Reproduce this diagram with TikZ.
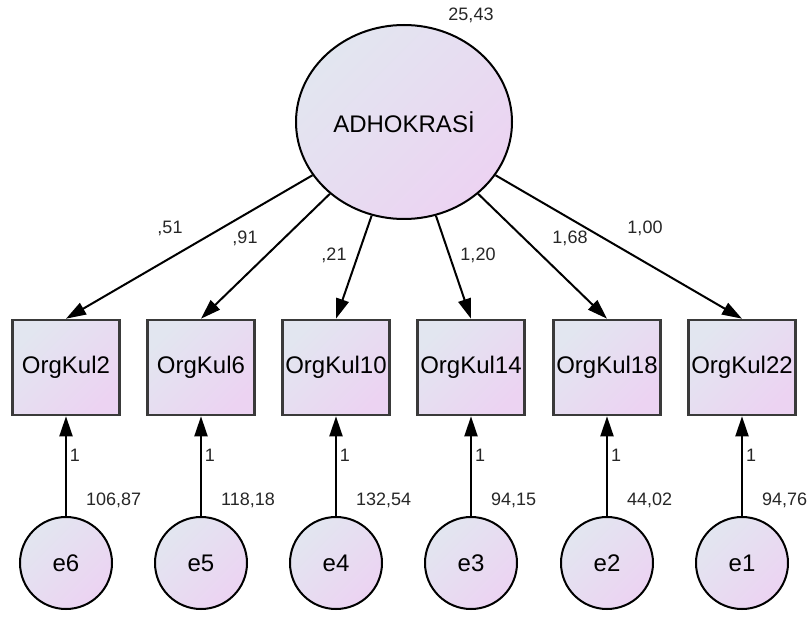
\documentclass[tikz,border=0pt]{standalone}
\usepackage{fontspec}
\setmainfont{Liberation Sans}
\usetikzlibrary{arrows.meta,shapes.geometric}
\definecolor{ca}{HTML}{E2E6F0}
\definecolor{cb}{HTML}{ECD3F2}
\definecolor{bord}{HTML}{3A3A3A}
\begin{document}
\begin{tikzpicture}[x=1pt,y=-1pt,
  grad/.style={top color=ca, bottom color=cb, shading angle=45},
  mainfont/.style={font=\fontsize{24}{28}\selectfont},
  smallfont/.style={font=\fontsize{18}{21}\selectfont, text=black!85, inner sep=0pt},
  latent/.style={ellipse, draw=black, line width=2pt, grad, mainfont, inner sep=0pt, minimum width=216pt, minimum height=194pt},
  obs/.style={rectangle, draw=bord, line width=2.6pt, grad, mainfont, inner sep=0pt, minimum width=107pt, minimum height=95pt},
  err/.style={circle, draw=black, line width=2pt, grad, mainfont, inner sep=0pt, minimum size=92pt},
  arr/.style={line width=2pt, -{Triangle[length=20pt,width=13pt]}}]
\useasboundingbox (0,0) rectangle (811,617);
\node[latent] (F) at (404,122) {ADHOKRASİ};
\node[smallfont] (vF) at (471,15) {25,43};
\foreach \i/\x/\t in {1/66/OrgKul2, 2/201/OrgKul6, 3/336/OrgKul10, 4/471/OrgKul14, 5/607/OrgKul18, 6/742/OrgKul22}{
  \node[obs] (b\i) at (\x,367.5) {\t};
}
\foreach \i/\x/\t in {1/66/e6, 2/201/e5, 3/336/e4, 4/471/e3, 5/607/e2, 6/742/e1}{
  \node[err] (e\i) at (\x,563) {\t};
}
\foreach \i in {1,...,6}{
  \draw[arr] (F) -- (b\i.north);
  \draw[arr] (e\i) -- (b\i.south);
}
\node[smallfont] (w1) at (170,228) {,51};
\node[smallfont] (w2) at (245,238) {,91};
\node[smallfont] (w3) at (334,255) {,21};
\node[smallfont] (w4) at (478,255) {1,20};
\node[smallfont] (w5) at (570,238) {1,68};
\node[smallfont] (w6) at (645,228) {1,00};
\foreach \i/\x in {1/66, 2/201, 3/336, 4/471, 5/607, 6/742}{
  \node[smallfont] (one\i) at (\x+9,455) {1};
}
\node[smallfont, anchor=west] (v1) at (86,500) {106,87};
\node[smallfont, anchor=west] (v2) at (221,500) {118,18};
\node[smallfont, anchor=west] (v3) at (356,500) {132,54};
\node[smallfont, anchor=west] (v4) at (491,500) {94,15};
\node[smallfont, anchor=west] (v5) at (627,500) {44,02};
\node[smallfont, anchor=west] (v6) at (762,500) {94,76};
\end{tikzpicture}
\end{document}
